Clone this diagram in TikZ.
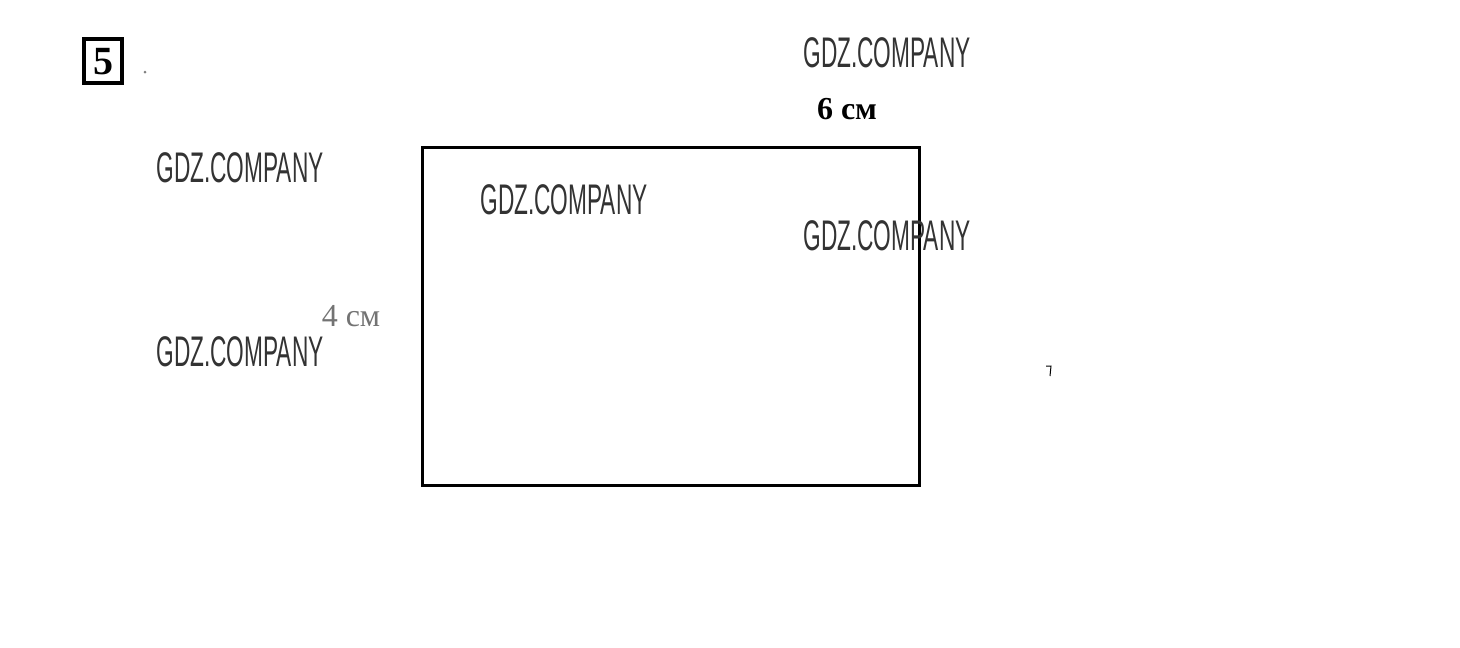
\documentclass[tikz,border=0pt]{standalone}
\usepackage{fontspec}
\usepackage{graphicx}
\setmainfont{Liberation Serif}
\newfontfamily\wmfont{Liberation Sans}
\tikzset{
  wm/.style={inner sep=0pt, anchor=center, text=black!80},
  lbl/.style={inner sep=0pt, anchor=center},
}
\newcommand{\wmtext}{\scalebox{0.54}[1.02]{\wmfont\fontsize{42}{48}\selectfont GDZ.COMPANY}}
\begin{document}
\begin{tikzpicture}[x=1pt,y=-1pt]
\useasboundingbox (0,0) rectangle (1460,648);
% task number box
\draw[line width=4pt] (84,39) rectangle (122,83);
\node[lbl] (num) at (103,62) {\fontsize{40}{42}\selectfont\bfseries 5};
\node[lbl, circle, fill=black!50, minimum size=3pt] (dot) at (145,72) {};
% rectangle
\node[draw, line width=3pt, minimum width=497pt, minimum height=338pt, inner sep=0pt] (rect) at (670.5,316) {};
% labels
\node[lbl] (six) at (847,109) {\fontsize{32}{34}\selectfont\bfseries 6 см};
\node[lbl, text=black!55] (four) at (351,316) {\fontsize{32}{34}\selectfont 4 см};
% watermarks
\node[wm] (w1) at (887,53) {\wmtext};
\node[wm] (w2) at (240,168) {\wmtext};
\node[wm] (w3) at (564,200) {\wmtext};
\node[wm] (w4) at (887,236) {\wmtext};
\node[wm] (w5) at (240,352) {\wmtext};
% small stray mark
\coordinate (m1) at (1046,366);
\coordinate (m2) at (1051,366);
\coordinate (m3) at (1050,376);
\draw[line width=1pt] (m1) -- (m2) -- (m3);
\end{tikzpicture}
\end{document}
